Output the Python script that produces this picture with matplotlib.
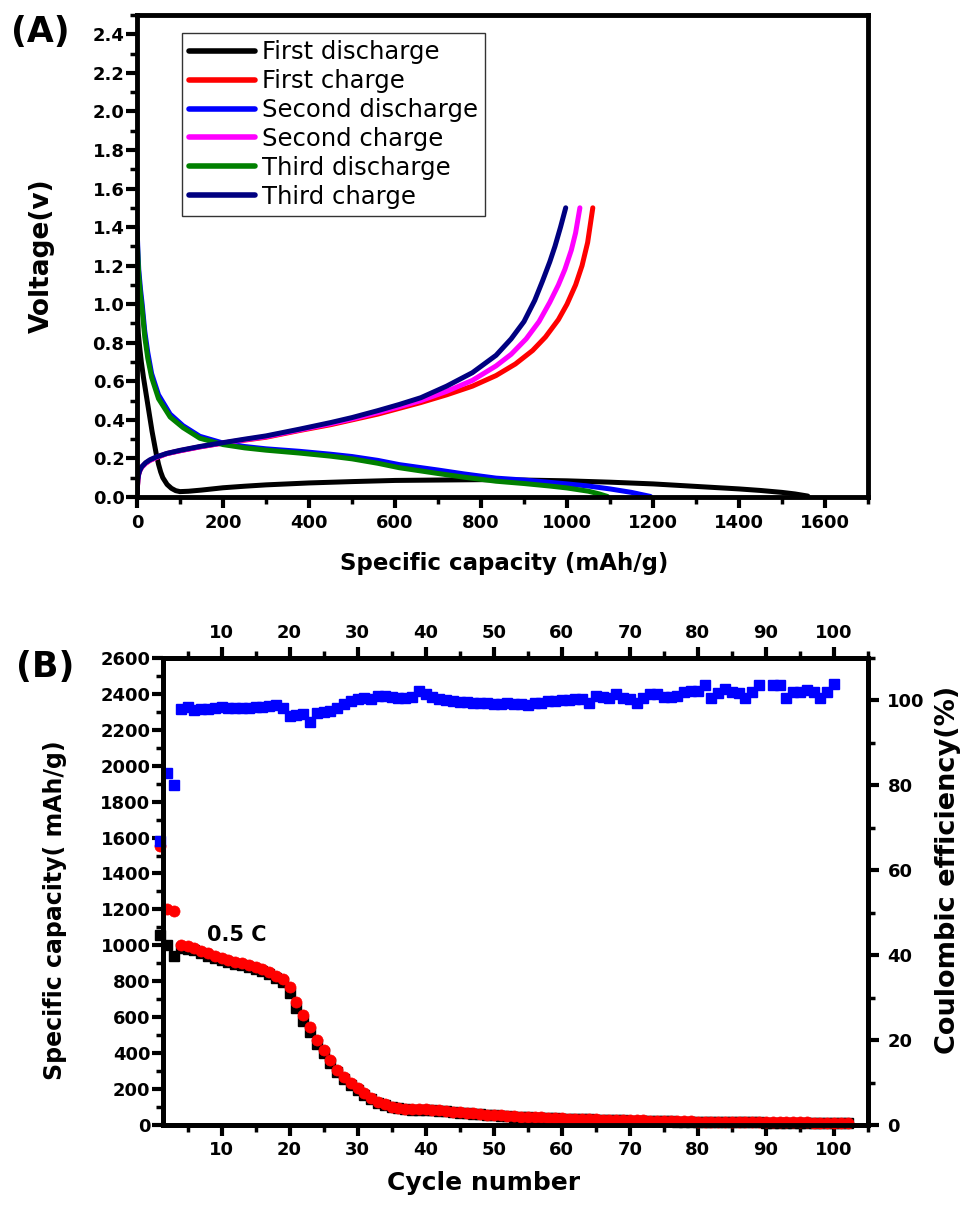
import numpy as np
import matplotlib
matplotlib.use("Agg")
import matplotlib.pyplot as plt
from matplotlib.ticker import MultipleLocator, FormatStrFormatter

plt.rcParams['font.family'] = ['DejaVu Sans']
plt.rcParams['font.weight'] = 'bold'
plt.rcParams['axes.labelweight'] = 'bold'

# ---- panel A: voltage profiles ----
cap_d1 = [0, 3, 6, 10, 15, 20, 25, 30, 35, 40, 45, 50, 55, 60, 70, 80, 90, 100, 120, 150,
          200, 250, 300, 400, 500, 600, 700, 800, 900, 1000, 1100, 1200, 1300, 1400, 1450,
          1500, 1530, 1560]
v_d1 = [1.0, 0.85, 0.78, 0.70, 0.62, 0.55, 0.48, 0.41, 0.34, 0.28, 0.22, 0.17, 0.13, 0.10,
        0.065, 0.045, 0.033, 0.028, 0.03, 0.036, 0.048, 0.056, 0.063, 0.073, 0.08, 0.086,
        0.088, 0.09, 0.088, 0.084, 0.077, 0.068, 0.055, 0.042, 0.034, 0.024, 0.016, 0.005]

cap_c1 = [0, 2, 4, 7, 11, 20, 30, 45, 69, 100, 146, 200, 250, 300, 378, 450, 500, 560, 610,
          660, 720, 780, 835, 880, 920, 950, 980, 1000, 1020, 1035, 1048, 1060]
v_c1 = [0.02, 0.09, 0.12, 0.14, 0.155, 0.175, 0.19, 0.205, 0.225, 0.24, 0.26, 0.28, 0.295,
        0.31, 0.345, 0.375, 0.4, 0.43, 0.46, 0.49, 0.53, 0.575, 0.63, 0.69, 0.76, 0.83, 0.92,
        1.0, 1.1, 1.2, 1.32, 1.5]

cap_d2 = [0, 2, 4, 8, 12, 18, 25, 34, 50, 77, 107, 146, 200, 250, 300, 378, 450, 500, 560,
          610, 700, 760, 835, 900, 1000, 1050, 1100, 1150, 1194]
v_d2 = [1.4, 1.28, 1.18, 1.08, 1.0, 0.86, 0.75, 0.64, 0.53, 0.43, 0.37, 0.315, 0.28, 0.262,
        0.25, 0.237, 0.222, 0.21, 0.19, 0.168, 0.14, 0.12, 0.098, 0.088, 0.068, 0.057, 0.042,
        0.024, 0.003]

cap_c2 = [0, 2, 4, 7, 11, 20, 30, 45, 69, 100, 146, 200, 250, 300, 378, 450, 500, 560, 610,
          660, 720, 780, 835, 870, 905, 935, 960, 980, 995, 1010, 1020, 1030]
v_c2 = [0.02, 0.09, 0.12, 0.14, 0.155, 0.175, 0.19, 0.205, 0.225, 0.24, 0.26, 0.28, 0.297,
        0.313, 0.348, 0.38, 0.405, 0.438, 0.468, 0.5, 0.548, 0.605, 0.68, 0.74, 0.82, 0.91,
        1.01, 1.1, 1.18, 1.28, 1.37, 1.5]

cap_d3 = [0, 2, 4, 8, 12, 18, 25, 34, 50, 77, 107, 146, 200, 250, 300, 378, 450, 500, 560,
          610, 700, 760, 835, 900, 960, 1000, 1050, 1075, 1094]
v_d3 = [1.37, 1.25, 1.15, 1.05, 0.97, 0.83, 0.72, 0.62, 0.51, 0.415, 0.36, 0.305, 0.272,
        0.255, 0.243, 0.228, 0.212, 0.198, 0.175, 0.152, 0.122, 0.103, 0.082, 0.07, 0.057,
        0.047, 0.03, 0.016, 0.003]

cap_c3 = [0, 2, 4, 7, 11, 20, 30, 45, 69, 100, 146, 200, 250, 300, 378, 450, 500, 560, 610,
          660, 720, 780, 835, 870, 900, 925, 943, 960, 972, 985, 997]
v_c3 = [0.02, 0.09, 0.12, 0.14, 0.157, 0.178, 0.193, 0.208, 0.226, 0.242, 0.262, 0.282, 0.3,
        0.317, 0.352, 0.386, 0.412, 0.448, 0.48, 0.515, 0.575, 0.645, 0.735, 0.82, 0.91, 1.02,
        1.12, 1.22, 1.3, 1.4, 1.5]

curve_labels = ["First discharge", "First charge", "Second discharge", "Second charge",
                "Third discharge", "Third charge"]

# ---- panel B: cycling ----
cycles = list(range(1, 103))
charge = [1555, 1200, 1190, 1000, 995, 985, 970, 955, 942, 930, 920, 910, 900, 890, 880, 868,
          852, 832, 810, 770, 685, 611, 546, 472, 417, 361, 306, 269, 232, 204, 176, 148, 130,
          115, 102, 95, 90, 88, 87, 88, 86, 82, 78, 74, 70, 67, 64, 61, 58, 56, 53, 51, 49, 47,
          45, 43, 42, 40, 39, 37, 36, 35, 34, 33, 31, 30, 29, 28, 27, 26, 25, 25, 24, 23, 22,
          22, 21, 21, 20, 19, 19, 18, 18, 17, 17, 17, 16, 16, 16, 15, 15, 15, 15, 14, 14, 14,
          13, 13, 13, 12, 12, 12]
discharge = [1060, 1000, 940, 985, 982, 972, 957, 942, 930, 918, 908, 898, 888, 878, 868, 856,
             840, 818, 795, 735, 650, 580, 515, 450, 400, 345, 295, 258, 222, 195, 168, 142,
             124, 110, 98, 92, 88, 86, 85, 86, 84, 80, 76, 72, 68, 65, 62, 59, 56, 54, 51, 49,
             47, 45, 43, 41, 40, 38, 37, 35, 34, 33, 32, 31, 29, 28, 27, 26, 25, 24, 23, 23,
             22, 21, 20, 20, 19, 19, 18, 17, 17, 16, 16, 15, 15, 15, 14, 14, 14, 13, 13, 13,
             13, 12, 12, 12, 11, 11, 11, 10, 10, 10]
ce_cycles = list(range(1, 101))
efficiency = [67, 83, 80, 98.0, 98.5, 97.8, 97.9, 98.0, 98.2, 98.5, 98.3, 98.2, 98.3, 98.3,
              98.4, 98.5, 98.6, 98.8, 98.2, 96.3, 96.5, 96.8, 94.8, 97.1, 97.3, 97.6, 98.3,
              99.2, 99.9, 100.3, 100.5, 100.3, 101.1, 101.1, 100.7, 100.5, 100.5, 100.7, 102.2,
              101.6, 100.7, 100.3, 100.0, 99.9, 99.7, 99.7, 99.5, 99.5, 99.5, 99.2, 99.1, 99.5,
              99.1, 99.1, 98.9, 99.3, 99.5, 99.8, 99.8, 100.1, 100.1, 100.3, 100.3, 99.3, 101.1,
              100.9, 100.6, 101.4, 100.5, 100.3, 99.3, 100.6, 101.4, 101.4, 100.9, 100.9, 101.1,
              102.0, 102.1, 102.3, 103.6, 100.5, 101.8, 102.8, 102.0, 101.8, 100.5, 102.0,
              103.6, np.nan, 103.6, 103.6, 100.5, 102.0, 102.0, 102.5, 102.0, 100.5, 102.0,
              103.8]

fig = plt.figure(figsize=(9.67, 12.09), dpi=100)

def style_axis(ax):
    for s in ax.spines.values():
        s.set_linewidth(3.5)
    ax.tick_params(which='major', direction='out', length=8, width=3, labelsize=13)
    ax.tick_params(which='minor', direction='out', length=5, width=2.5)

# panel A
ax1 = fig.add_axes([0.1417, 0.5889, 0.7559, 0.3987])
colors = ['black', 'red', 'blue', 'magenta', 'green', 'navy']
series = [(cap_d1, v_d1), (cap_c1, v_c1), (cap_d2, v_d2), (cap_c2, v_c2), (cap_d3, v_d3),
          (cap_c3, v_c3)]
for (xs, ys), c, lab in zip(series, colors, curve_labels):
    ax1.plot(xs, ys, color=c, lw=3.6, label=lab, solid_capstyle='round',
             solid_joinstyle='round')
ax1.set_xlim(0, 1700)
ax1.set_ylim(0, 2.5)
ax1.xaxis.set_minor_locator(MultipleLocator(100))
ax1.yaxis.set_minor_locator(MultipleLocator(0.1))
ax1.set_xticks(np.arange(0, 1601, 200))
ax1.set_yticks(np.round(np.arange(0, 2.41, 0.2), 1))
ax1.yaxis.set_major_formatter(FormatStrFormatter('%.1f'))
style_axis(ax1)
ax1.tick_params(axis='y', which='major', pad=1)
ax1.tick_params(axis='x', which='major', pad=4)
ax1.set_xlabel('Specific capacity (mAh/g)', fontsize=16.5, va='center')
ax1.set_ylabel('Voltage(v)', fontsize=19, va='center')
ax1.xaxis.set_label_coords(0.502, -0.137)
ax1.yaxis.set_label_coords(-0.130, 0.5)
leg = ax1.legend(loc='upper left', bbox_to_anchor=(0.1882, 0.9727),
                 bbox_transform=fig.transFigure, fancybox=False, framealpha=1,
                 edgecolor='#333333', borderaxespad=0, borderpad=0.3,
                 handlelength=2.7, handletextpad=0.3, labelspacing=0.2,
                 prop={'size': 17.5, 'weight': 'normal'})
leg.get_frame().set_linewidth(1.0)
for h in leg.get_lines():
    h.set_linewidth(4)
fig.text(40 / 967, 1 - 32 / 1209, '(A)', fontsize=25, ha='center', va='center')

# panel B
ax3 = fig.add_axes([0.1686, 0.0695, 0.729, 0.3863])
ax3.plot(cycles, discharge, 's', color='black', ms=6.5, mec='black', clip_on=False, zorder=3)
ax3.plot(cycles, charge, 'o', color='red', ms=8, mec='red', mew=0.5, clip_on=False,
         zorder=4)
ax3.set_xlim(1.4, 105)
ax3.set_ylim(0, 2600)
ax3.xaxis.set_minor_locator(MultipleLocator(5))
ax3.set_xticks(np.arange(10, 101, 10))
ax3.yaxis.set_major_locator(MultipleLocator(200))
ax3.yaxis.set_minor_locator(MultipleLocator(100))
style_axis(ax3)
ax3.tick_params(axis='x', which='both', top=True, labeltop=True)
ax3.tick_params(axis='y', which='major', pad=1)
ax3.set_xlabel('Cycle number', fontsize=18, va='center')
ax3.set_ylabel('Specific capacity( mAh/g)', fontsize=17, va='center')
ax3.xaxis.set_label_coords(0.455, -0.124)
ax3.yaxis.set_label_coords(-0.153, 0.46)
ax3.annotate('0.5 C', xy=(237 / 967, 1 - 935 / 1209), xycoords='figure fraction',
             fontsize=15, ha='center', va='center')

ax4 = ax3.twinx()
ax4.plot(ce_cycles, efficiency, 's', color='blue', ms=6.5, mec='blue', clip_on=False)
ax4.set_ylim(0, 110)
ax4.yaxis.set_minor_locator(MultipleLocator(10))
ax4.set_yticks(np.arange(0, 101, 20))
style_axis(ax4)
ax4.tick_params(axis='y', which='major', pad=6)
ax4.set_ylabel('Coulombic efficiency(%)', fontsize=19.5, va='center', rotation=90)
ax4.yaxis.set_label_coords(1.114, 0.546)
fig.text(45 / 967, 1 - 667 / 1209, '(B)', fontsize=25, ha='center', va='center')

fig.savefig('out.png', dpi=100)
